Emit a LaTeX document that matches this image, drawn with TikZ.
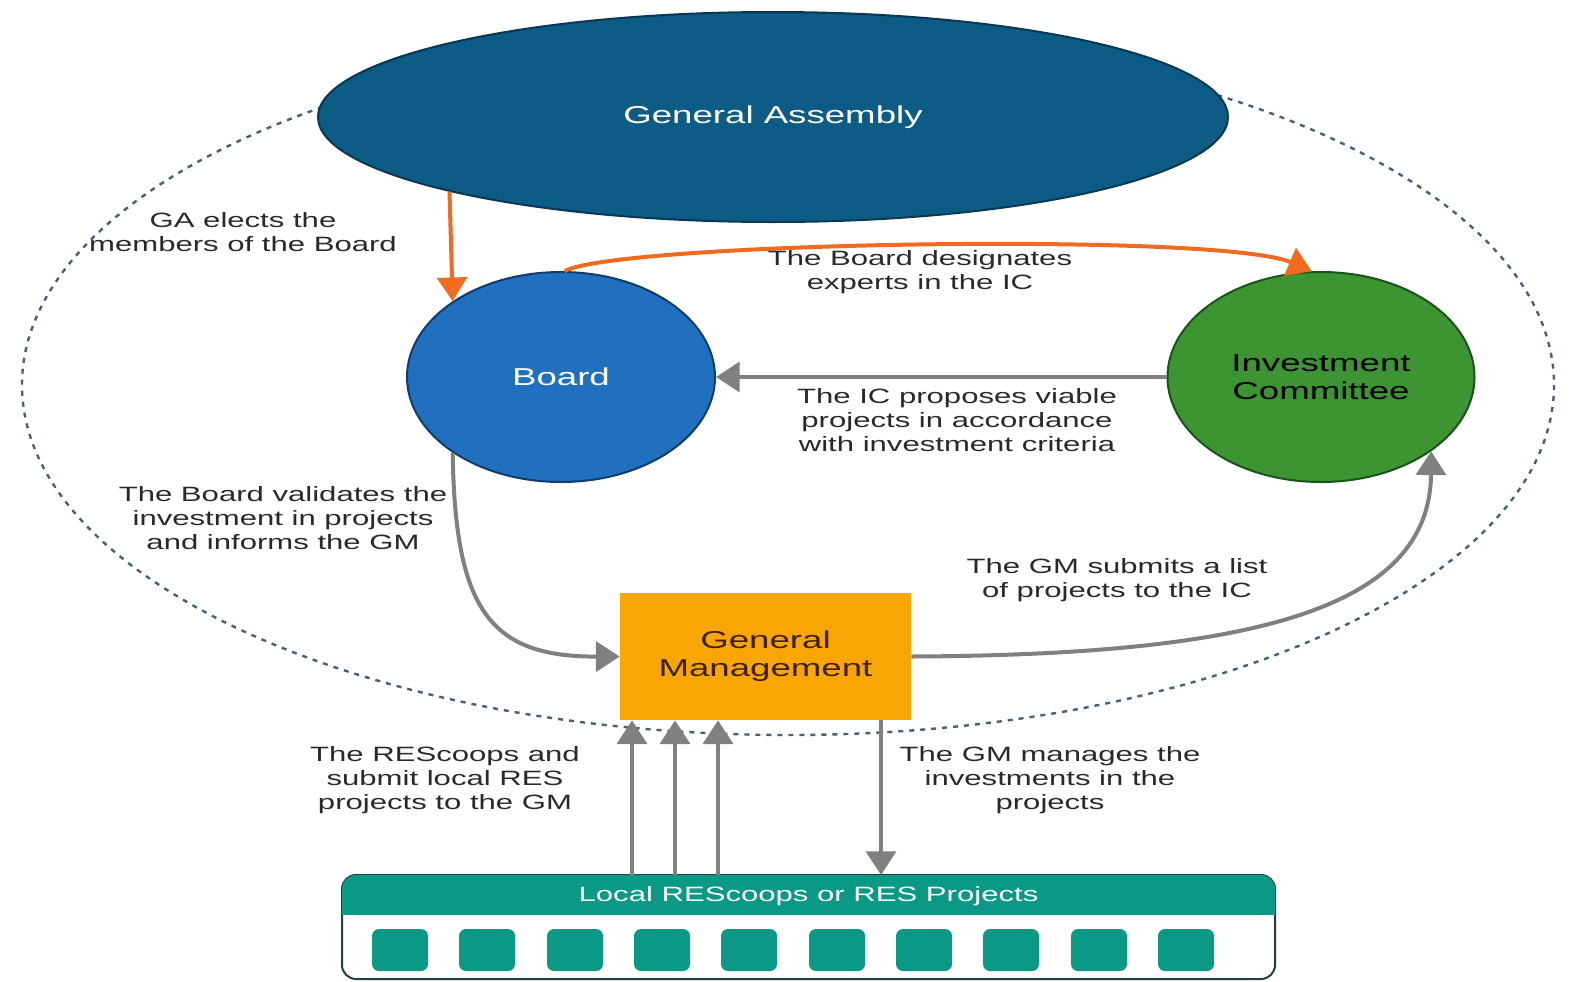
\documentclass[tikz,border=0pt]{standalone}
\usepackage{fontspec}
\setmainfont{Liberation Sans}[FakeStretch=1.5]
\usetikzlibrary{arrows.meta,shapes.geometric}

\newlength{\du}
\setlength{\du}{0.02cm}

\definecolor{gafill}{rgb}{0.05,0.36,0.52}
\definecolor{gaedge}{rgb}{0.03,0.22,0.33}
\definecolor{boardfill}{rgb}{0.13,0.44,0.75}
\definecolor{boardedge}{rgb}{0.06,0.24,0.42}
\definecolor{icfill}{rgb}{0.24,0.58,0.20}
\definecolor{icedge}{rgb}{0.10,0.33,0.10}
\definecolor{gmfill}{rgb}{0.97,0.65,0.02}
\definecolor{gmtext}{rgb}{0.25,0.13,0.03}
\definecolor{resteal}{rgb}{0.04,0.60,0.52}
\definecolor{resedge}{rgb}{0.12,0.25,0.24}
\definecolor{flowgray}{rgb}{0.50,0.50,0.50}
\definecolor{electorange}{rgb}{0.94,0.42,0.12}
\definecolor{outline}{rgb}{0.28,0.38,0.45}
\definecolor{notetext}{rgb}{0.16,0.16,0.16}

\begin{document}
\begin{tikzpicture}[
  govbody/.style={ellipse, inner sep=0pt, line width=2\du, align=center,
    font=\fontsize{13.9}{16}\selectfont},
  note/.style={align=center, text=notetext, font=\fontsize{11.8}{13.6}\selectfont},
  flow/.style={line width=4\du, draw=flowgray, -{Triangle[width=17pt,length=13.5pt]}},
  elect/.style={flow, draw=electorange},
  resunit/.style={rectangle, rounded corners=7\du, fill=resteal, minimum width=56\du,
    minimum height=42\du, inner sep=0pt}
]
\pgftransformxscale{1.000000}
\pgftransformyscale{-1.000000}
\useasboundingbox (0\du,0\du) rectangle (1572\du,981\du);

% cooperative boundary
\draw[outline, line width=2.4\du, dash pattern=on 5\du off 6\du] (788\du,385\du) ellipse [x radius=766\du, y radius=350\du];

% bodies
\node[govbody, fill=gafill, draw=gaedge, text=white, minimum width=910\du, minimum height=210\du]
  (ga) at (773\du,117\du) {General Assembly};
\node[govbody, fill=boardfill, draw=boardedge, text=white, minimum width=308\du, minimum height=210\du]
  (board) at (561\du,377\du) {Board};
\node[govbody, fill=icfill, draw=icedge, text=black, minimum width=307\du, minimum height=210\du]
  (ic) at (1321\du,377\du) {Investment\\Committee};
\node[rectangle, fill=gmfill, text=gmtext, minimum width=291\du, minimum height=127\du, align=center,
  font=\fontsize{13.9}{16}\selectfont] (gm) at (765.5\du,656.5\du) {General\\Management};

% local rescoops
\node[rectangle, draw=resedge, line width=2\du, fill=white, rounded corners=14\du,
  minimum width=933\du, minimum height=104\du] (res) at (808.5\du,927\du) {};
\fill[resteal, rounded corners=14\du] (342\du,875\du) rectangle (1275\du,915\du);
\fill[resteal] (342\du,897\du) rectangle (1275\du,915\du);
\node[text=white, font=\fontsize{11.8}{13}\selectfont] (resbar) at (808.5\du,896\du) {Local REScoops or RES Projects};
\foreach \ux [count=\i] in {400,487,575,662,749,837,924,1011,1099,1186}
  \node[resunit] (unit\i) at (\ux\du,950\du) {};

% connectors
\draw[elect] (ga.193) -- (board.145);
\draw[elect] (board.88) .. controls (620\du,242\du) and (1220\du,232\du) .. (ic.95);
\draw[flow] (ic.west) -- (board.east);
\draw[flow] (board.215) .. controls (455\du,610\du) and (490\du,657\du) .. (gm.west);
\draw[flow] (gm.east) .. controls (1250\du,655\du) and (1430\du,610\du) .. (ic.-34);
\foreach \ux [count=\i] in {632,675,718} {
  \coordinate (sub\i) at (\ux\du,875\du);
  \draw[flow] (sub\i) -- (sub\i |- gm.south);
}
\coordinate (inv) at (881\du,875\du);
\draw[flow] (inv |- gm.south) -- (inv);

% setfont left to latex
\node[note] (lelect) at (243\du,232\du) {GA elects the\\members of the Board};
\node[note] (ldesig) at (920\du,272\du) {The Board designates\\experts in the IC};
\node[note] (lpropose) at (957\du,420\du) {The IC proposes viable\\projects in accordance\\with investment criteria};
\node[note] (lvalid) at (283\du,518\du) {The Board validates the\\investment in projects\\and informs the GM};
\node[note] (lsubmit) at (1117\du,580\du) {The GM submits a list\\of projects to the IC};
\node[note] (llocal) at (445\du,780\du) {The REScoops and\\submit local RES\\projects to the GM};
\node[note] (lmanage) at (1050\du,780\du) {The GM manages the\\investments in the\\projects};
\end{tikzpicture}
\end{document}
